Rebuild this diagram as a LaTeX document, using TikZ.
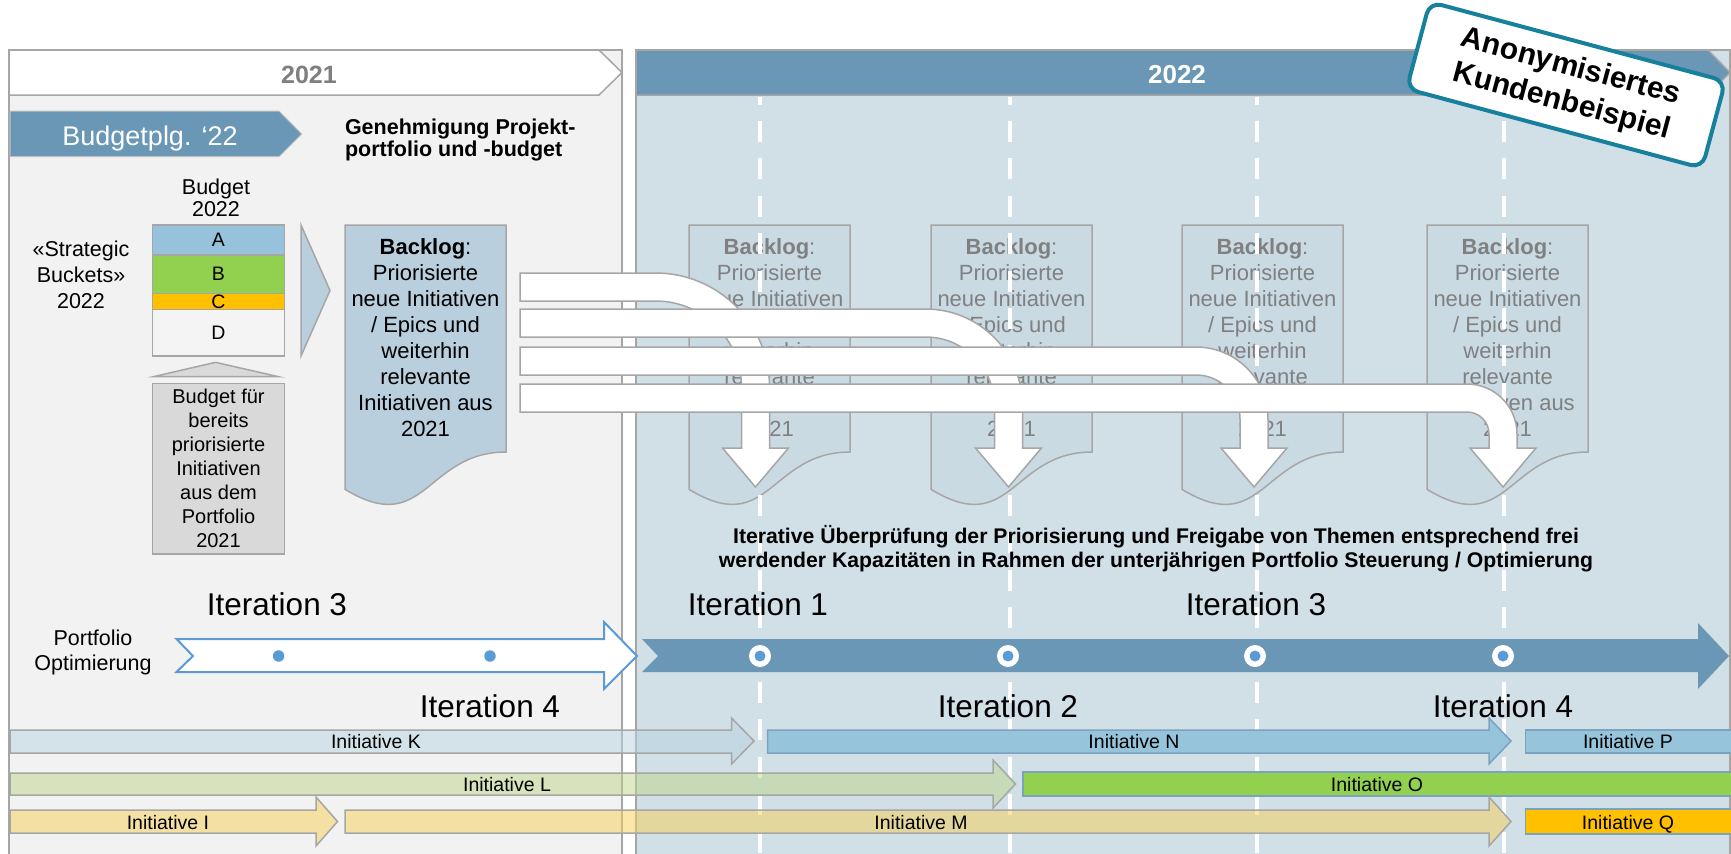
\documentclass[tikz,border=0pt]{standalone}
\usepackage{fontspec}
\setmainfont{Liberation Sans}
\definecolor{pgray}{HTML}{F2F2F2}
\definecolor{bgray}{HTML}{A6A6A6}
\definecolor{hblue}{HTML}{6A97B6}
\definecolor{pblue}{HTML}{D1DFE7}
\definecolor{blfill}{HTML}{B9CFDD}
\definecolor{fadefill}{HTML}{C9DAE3}
\definecolor{fadetext}{HTML}{808080}
\definecolor{cA}{HTML}{96C3DB}
\definecolor{cB}{HTML}{92D050}
\definecolor{cC}{HTML}{FFC000}
\definecolor{cD}{HTML}{F4F4F4}
\definecolor{boxgray}{HTML}{D9D9D9}
\definecolor{kfill}{HTML}{B8D3E1}
\definecolor{lfill}{HTML}{BCD688}
\definecolor{mfill}{HTML}{F8D056}
\definecolor{nfill}{HTML}{96C4DB}
\definecolor{bblue}{HTML}{7DA2BE}
\definecolor{obl}{HTML}{5B9BD5}
\definecolor{anoteal}{HTML}{17809C}
\definecolor{hdrtext}{HTML}{7F7F7F}
\newcommand\fpx[2]{\fontsize{#1}{#2}\selectfont}
\begin{document}
\begin{tikzpicture}[x=0.5pt,y=-0.5pt,
  every node/.style={inner sep=0pt, outer sep=0pt},
  panelline/.style={draw=bgray, line width=0.75pt},
  dashline/.style={draw=white, line width=2.25pt, dash pattern=on 10.5pt off 8.2pt, dash phase=6.7pt},
  warrow/.style={fill=white, draw=bgray, line width=0.75pt},
  semibar/.style={draw=bgray, line width=0.75pt, fill opacity=0.5},
  solidbar/.style={draw=bblue, line width=0.75pt},
  inittext/.style={anchor=base, font=\fpx{9.75pt}{11pt}},
  itertext/.style={anchor=base, font=\fpx{15.75pt}{18pt}},
  blogtext/.style={anchor=north, align=center, font=\fpx{11pt}{13pt}},
  docbox/.style={line width=0.75pt, draw=bgray},
  barbox/.style={draw=bgray, line width=0.75pt, minimum width=66pt, font=\fpx{9.75pt}{11pt}},
]
\fill[white] (0,0) rectangle (1731,853);
\useasboundingbox (0,0) rectangle (1731,853);

% panels
\path[fill=pgray, panelline] (9,50) rectangle (622,860);
\path[fill=white, panelline] (9,50) -- (599,50) -- (622,72.5) -- (599,95) -- (9,95) -- cycle;
\path[fill=pblue, panelline] (636,50) rectangle (1730,860);
\path[fill=hblue, panelline] (636,50) -- (1708,50) -- (1730,72.5) -- (1708,95) -- (636,95) -- cycle;
\node[anchor=base, font=\fpx{12.5pt}{15pt}\bfseries, text=hdrtext] (y21) at (309,83) {2021};
\node[anchor=base, font=\fpx{13pt}{15pt}\bfseries, text=white] (y22) at (1177,83) {2022};

% Budgetplanung
\path[fill=hblue, draw=bgray!70, line width=0.5pt] (10,111) -- (279,111) -- (301.7,134) -- (279,156.7) -- (10,156.7) -- cycle;
\node[anchor=base, font=\fpx{13.5pt}{15pt}, text=white] (bplg) at (150,145) {Budgetplg. ‘22};
\node[anchor=north west, align=left, font=\fpx{10.75pt}{11pt}\bfseries] (gen) at (345,119) {Genehmigung Projekt-\\portfolio und -budget};
\node[anchor=north, align=center, font=\fpx{10.75pt}{11.2pt}] (bud) at (216,179) {Budget\\2022};
\node[anchor=north, align=center, font=\fpx{10.75pt}{12.9pt}] (strat) at (81,241) {«Strategic\\Buckets»\\2022};

% budget bars
\node[barbox, fill=cA, minimum height=15pt] (bA) at (218.5,240) {A};
\node[barbox, fill=cB, minimum height=19.15pt] (bB) at (218.5,274.2) {B};
\node[barbox, fill=cC, minimum height=8pt] (bC) at (218.5,301.3) {C};
\node[barbox, fill=cD, minimum height=23.35pt] (bD) at (218.5,332.7) {D};
\path[fill=boxgray, draw=bgray, line width=0.75pt] (153.4,376.7) -- (215.5,362.3) -- (278.5,376.7) -- cycle;
\node[draw=bgray, line width=0.75pt, fill=boxgray, minimum width=66pt, minimum height=85.35pt, align=center, font=\fpx{10pt}{12pt}] (bprev) at (218.5,468.7) {Budget für\\bereits\\priorisierte\\Initiativen\\aus dem\\Portfolio\\2021};
\path[fill=blfill, draw=bgray, line width=0.75pt] (301,225) -- (330,290.5) -- (301,356) -- cycle;

% main backlog
\draw[docbox, fill=blfill] (345,225) -- ++(161,0) -- ++(0,227) .. controls +(-80.5,0) and +(80.5,49.1) .. ++(-161,37.3) -- cycle;
\node[blogtext] (blog) at (425.5,239) {\textbf{Backlog}:\\Priorisierte\\neue Initiativen\\/ Epics und\\weiterhin\\relevante\\Initiativen aus\\2021};

% faded backlogs
\foreach \xx/\nm in {689/bl2,931/bl3,1182/bl4,1427/bl5} {
  \draw[docbox, fill=fadefill] (\xx,225) -- ++(161,0) -- ++(0,227) .. controls +(-80.5,0) and +(80.5,49.1) .. ++(-161,37.3) -- cycle;
  \node[blogtext, text=fadetext] (\nm) at (\xx+80.5,239) {\textbf{Backlog}:\\Priorisierte\\neue Initiativen\\/ Epics und\\weiterhin\\relevante\\Initiativen aus\\2021};
}

% dashed iteration lines
\foreach \xx in {760,1010,1257,1504} {
  \draw[dashline] (\xx,97) -- (\xx,856);
}

% white bent arrows
\path[warrow] (520,273) -- (655.5,273) .. controls +(63,0) and +(0,-63) .. (769.5,387) -- (769.5,448) -- (788.5,448) -- (755.5,487) -- (722.5,448) -- (741.5,448) -- (741.5,387) .. controls +(0,-47.5) and +(47.5,0) .. (655.5,301) -- (520,301) -- cycle;
\path[warrow] (520,309) -- (925.5,309) .. controls +(53.6,0) and +(0,-53.6) .. (1022.5,406) -- (1022.5,448) -- (1041.5,448) -- (1008.5,487) -- (975.5,448) -- (994.5,448) -- (994.5,406) .. controls +(0,-38.1) and +(38.1,0) .. (925.5,337) -- (520,337) -- cycle;
\path[warrow] (520,347) -- (1196,347) .. controls +(39.8,0) and +(0,-39.8) .. (1268,419) -- (1268,448) -- (1287,448) -- (1254,487) -- (1221,448) -- (1240,448) -- (1240,419) .. controls +(0,-24.3) and +(24.3,0) .. (1196,375) -- (520,375) -- cycle;
\path[warrow] (520,384) -- (1467,384) .. controls +(27.6,0) and +(0,-27.6) .. (1517,434) -- (1517,448) -- (1536,448) -- (1503,487) -- (1470,448) -- (1489,448) -- (1489,434) .. controls +(0,-12.2) and +(12.2,0) .. (1467,412) -- (520,412) -- cycle;

\node[anchor=north, align=center, font=\fpx{10.6pt}{12pt}\bfseries] (iterative) at (1156,525) {Iterative Überprüfung der Priorisierung und Freigabe von Themen entsprechend frei\\werdender Kapazitäten in Rahmen der unterjährigen Portfolio Steuerung / Optimierung};

% timeline
\node[itertext] (it3a) at (277,615) {Iteration 3};
\node[itertext] (it4a) at (490,717) {Iteration 4};
\node[itertext] (it1) at (758,615) {Iteration 1};
\node[itertext] (it2) at (1008,717) {Iteration 2};
\node[itertext] (it3b) at (1256,615) {Iteration 3};
\node[itertext] (it4b) at (1503,717) {Iteration 4};
\node[anchor=north, align=center, font=\fpx{10.75pt}{12.5pt}] (popt) at (93,629.5) {Portfolio\\Optimierung};

\path[fill=white, draw=obl, line width=1pt] (176.5,639) -- (604,639) -- (604,622) -- (637,656) -- (604,689) -- (604,672) -- (176.5,672) -- (193,656) -- cycle;
\fill[obl] (278.6,656) circle[radius=5.75];
\fill[obl] (490,656) circle[radius=5.75];
\path[fill=hblue] (642,639) -- (1698,639) -- (1698,623) -- (1729,656) -- (1698,689) -- (1698,672) -- (642,672) -- (658,656) -- cycle;
\foreach \xx in {760,1008,1255,1503} {
  \fill[white] (\xx,656) circle[radius=11];
  \fill[obl] (\xx,656) circle[radius=5.5];
}

% initiatives
\path[semibar, fill=kfill] (10,730) -- (731.5,730) -- (731.5,718) -- (754,741) -- (731.5,764) -- (731.5,753) -- (10,753) -- cycle;
\path[solidbar, fill=nfill] (767.5,730) -- (1489,730) -- (1489,718) -- (1511,741) -- (1489,764) -- (1489,753) -- (767.5,753) -- cycle;
\path[solidbar, fill=nfill] (1525.5,730) rectangle (1733,753);
\path[semibar, fill=lfill] (10,773) -- (993,773) -- (993,760) -- (1015.5,784) -- (993,808) -- (993,795) -- (10,795) -- cycle;
\path[solidbar, fill=cB] (1023,772) rectangle (1733,796);
\path[semibar, fill=mfill] (10,810) -- (316,810) -- (316,797) -- (337.5,821.5) -- (316,846) -- (316,833) -- (10,833) -- cycle;
\path[semibar, fill=mfill] (345,810) -- (1489,810) -- (1489,797) -- (1511,821.5) -- (1489,846) -- (1489,833) -- (345,833) -- cycle;
\path[solidbar, fill=cC] (1525.5,809) rectangle (1733,834);

\node[inittext] (iK) at (376,748.5) {Initiative K};
\node[inittext] (iN) at (1134,748.5) {Initiative N};
\node[inittext] (iP) at (1628,748.5) {Initiative P};
\node[inittext] (iL) at (507,791.5) {Initiative L};
\node[inittext] (iO) at (1377,791.5) {Initiative O};
\node[inittext] (iI) at (168,829) {Initiative I};
\node[inittext] (iM) at (921,829) {Initiative M};
\node[inittext] (iQ) at (1628,829) {Initiative Q};

% stamp
\node[draw=anoteal, line width=2pt, fill=white, rounded corners=6pt, minimum width=153pt, minimum height=45pt, rotate=-15, align=center, font=\fpx{15pt}{18pt}\bfseries] (anon) at (1566,85) {Anonymisiertes\\Kundenbeispiel};
\end{tikzpicture}
\end{document}
